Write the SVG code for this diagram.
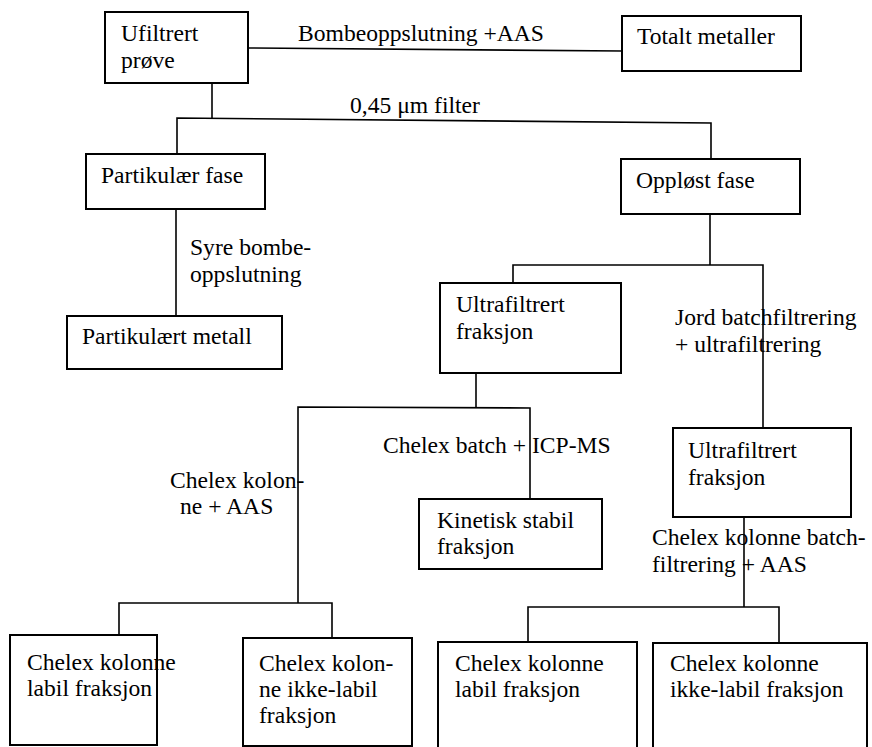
<svg xmlns="http://www.w3.org/2000/svg" width="872" height="747" viewBox="0 0 872 747" font-family="'Liberation Serif', 'DejaVu Serif', serif" font-size="23.6">
<style>
text{font-family:'Liberation Serif','DejaVu Serif',serif;font-size:23.6px;fill:#000}
.box{fill:#fff;stroke:#000;stroke-width:2}
.c{fill:none;stroke:#000;stroke-width:1.6}
</style>
<rect width="872" height="747" fill="#fff"/>
<g id="connectors">
<polyline class="c" points="248,48 622,51"/>
<polyline class="c" points="212,83 212,119"/>
<polyline class="c" points="177,154 177,118 711,123 711,159"/>
<polyline class="c" points="176,209 176,316"/>
<polyline class="c" points="710,214 710,265"/>
<polyline class="c" points="513,283 513,265 763,265 763,428"/>
<polyline class="c" points="476,373 476,408"/>
<polyline class="c" points="298,603 298,407 530,408 530,499"/>
<polyline class="c" points="744,517 744,607"/>
<polyline class="c" points="528,642 528,607 779,607 779,643"/>
<polyline class="c" points="119,635 119,603 332,603 332,638"/>
<text x="298" y="41">Bombeoppslutning +AAS</text>
<text x="350" y="113">0,45 μm filter</text>
<text x="190" y="255">Syre bombe-</text>
<text x="190" y="282">oppslutning</text>
<text x="675" y="325">Jord batchfiltrering</text>
<text x="675" y="352">+ ultrafiltrering</text>
<text x="383" y="453">Chelex batch + ICP-MS</text>
<text x="170" y="488">Chelex kolon-</text>
<text x="180" y="514">ne + AAS</text>
<text x="652" y="545">Chelex kolonne batch-</text>
<text x="652" y="572">filtrering + AAS</text>
</g>
<g id="n1"><rect class="box" x="105" y="12" width="143" height="71"/><text x="121" y="41">Ufiltrert</text><text x="121" y="68">prøve</text></g>
<g id="n2"><rect class="box" x="622" y="16" width="179" height="55"/><text x="637" y="44">Totalt metaller</text></g>
<g id="n3"><rect class="box" x="86" y="154" width="179" height="55"/><text x="101" y="183">Partikulær fase</text></g>
<g id="n4"><rect class="box" x="621" y="159" width="179" height="55"/><text x="636" y="188">Oppløst fase</text></g>
<g id="n5"><rect class="box" x="67" y="316" width="215" height="53"/><text x="82" y="344">Partikulært metall</text></g>
<g id="n6"><rect class="box" x="440" y="283" width="181" height="90"/><text x="456" y="312">Ultrafiltrert</text><text x="456" y="339">fraksjon</text></g>
<g id="n7"><rect class="box" x="673" y="428" width="178" height="89"/><text x="688" y="458">Ultrafiltrert</text><text x="688" y="485">fraksjon</text></g>
<g id="n8"><rect class="box" x="419" y="499" width="183" height="70"/><text x="437" y="528">Kinetisk stabil</text><text x="437" y="554">fraksjon</text></g>
<g id="n9"><rect class="box" x="10" y="635" width="147" height="110"/><text x="27" y="670">Chelex kolonne</text><text x="27" y="696">labil fraksjon</text></g>
<g id="n10"><rect class="box" x="243" y="638" width="169" height="108"/><text x="259" y="671">Chelex kolon-</text><text x="259" y="697">ne ikke-labil</text><text x="259" y="723">fraksjon</text></g>
<g id="n11"><rect class="box" x="438" y="642" width="199" height="120"/><text x="455" y="671">Chelex kolonne</text><text x="455" y="697">labil fraksjon</text></g>
<g id="n12"><rect class="box" x="653" y="643" width="214" height="120"/><text x="670" y="671">Chelex kolonne</text><text x="670" y="697">ikke-labil fraksjon</text></g>
</svg>
